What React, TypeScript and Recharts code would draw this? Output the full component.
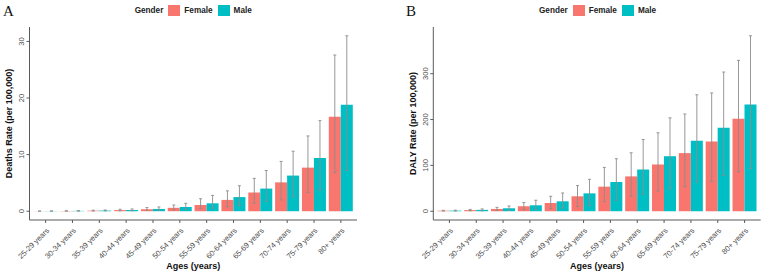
import { BarChart, Bar, XAxis, YAxis, ErrorBar, Legend, Label } from 'recharts';

// ggplot default hues
const FEMALE = '#F8766D';
const MALE = '#00BFC4';
const FONT = '"Liberation Sans", Arial, Helvetica, sans-serif';
const AXIS = '#5a5a5a';

const AGES = [
  '25-29 years', '30-34 years', '35-39 years', '40-44 years', '45-49 years', '50-54 years',
  '55-59 years', '60-64 years', '65-69 years', '70-74 years', '75-79 years', '80+ years',
];

// Deaths rate per 100,000 (mean, lower, upper)
const deathsFemale = [0.02, 0.05, 0.1, 0.2, 0.35, 0.6, 1.1, 2.0, 3.3, 5.1, 7.7, 16.7];
const deathsFemaleLow = [0.01, 0.02, 0.04, 0.08, 0.15, 0.25, 0.45, 0.8, 1.4, 2.0, 3.3, 6.8];
const deathsFemaleHigh = [0.04, 0.09, 0.18, 0.35, 0.65, 1.1, 2.2, 3.6, 5.8, 8.8, 13.3, 27.6];
const deathsMale = [0.03, 0.06, 0.12, 0.22, 0.4, 0.75, 1.4, 2.5, 4.0, 6.3, 9.4, 18.8];
const deathsMaleLow = [0.01, 0.02, 0.05, 0.09, 0.17, 0.3, 0.55, 1.0, 1.7, 2.5, 3.8, 7.2];
const deathsMaleHigh = [0.05, 0.11, 0.22, 0.4, 0.75, 1.4, 2.8, 4.5, 7.2, 10.6, 16.0, 31.0];

// DALY rate per 100,000 (mean, lower, upper)
const dalyFemale = [1.2, 2.5, 5, 10.9, 18, 32.6, 53.6, 76, 102, 126.8, 152, 201.5];
const dalyFemaleLow = [0.4, 1, 1.5, 3.5, 6, 10, 21, 33, 44, 54, 64.5, 86];
const dalyFemaleHigh = [2, 4, 8.5, 19, 32.6, 56, 95.7, 127.5, 171, 212, 258, 329];
const dalyMale = [1.4, 3, 6.5, 13, 21.7, 39, 63.8, 91, 120, 153.6, 182, 232.6];
const dalyMaleLow = [0.5, 1, 2, 4, 7, 12, 24, 37, 49, 64, 78, 93.5];
const dalyMaleHigh = [2.3, 5, 11.5, 24, 39.8, 69.6, 114.5, 156.5, 203.6, 254, 303.6, 382.6];

const deathsTicks = [0, 10, 20, 30];
const dalyTicks = [0, 100, 200, 300];

function buildRows(f: number[], fl: number[], fh: number[], m: number[], ml: number[], mh: number[]) {
  return AGES.map((age, i) => ({
    age,
    Female: f[i],
    Male: m[i],
    femaleErr: [f[i] - fl[i], fh[i] - f[i]],
    maleErr: [m[i] - ml[i], mh[i] - m[i]],
  }));
}

const deathsRows = buildRows(deathsFemale, deathsFemaleLow, deathsFemaleHigh, deathsMale, deathsMaleLow, deathsMaleHigh);
const dalyRows = buildRows(dalyFemale, dalyFemaleLow, dalyFemaleHigh, dalyMale, dalyMaleLow, dalyMaleHigh);

const XTick = (props: any) => {
  const { x, y, payload } = props;
  const ax = x + 4;
  const ay = y + 6;
  return (
    <text x={ax} y={ay} transform={`rotate(-45, ${ax}, ${ay})`} textAnchor="end"
      fontSize={7.6} fill="#4D4D4D" fontFamily={FONT}>
      {payload.value}
    </text>
  );
};

const YTick = (props: any) => {
  const { x, y, payload } = props;
  return (
    <text x={x} y={y} transform={`rotate(-90, ${x}, ${y})`} textAnchor="middle"
      fontSize={7.6} fill="#4D4D4D" fontFamily={FONT}>
      {payload.value}
    </text>
  );
};

const renderLegend = (props: any) => (
  <div style={{ display: 'flex', alignItems: 'center', fontFamily: FONT, fontSize: 8.2, fontWeight: 'bold', color: '#222', whiteSpace: 'nowrap' }}>
    <span style={{ marginRight: 5 }}>Gender</span>
    {(props.payload || []).map((e: any) => (
      <span key={e.value} style={{ display: 'flex', alignItems: 'center', marginRight: 5 }}>
        <span style={{ display: 'inline-block', width: 12, height: 11, background: e.color, marginRight: 4 }} />
        {e.value}
      </span>
    ))}
  </div>
);

interface PanelProps {
  letter: string;
  rows: any[];
  yLabel: string;
  domain: [number, number];
  ticks: number[];
  width: number;
  marginLeft: number;
  marginRight: number;
  legendLeft: number;
  letterLeft: number;
}

function Panel({ letter, rows, yLabel, domain, ticks, width, marginLeft, marginRight, legendLeft, letterLeft }: PanelProps) {
  return (
    <div style={{ position: 'relative', width, height: 277 }}>
      <div style={{ position: 'absolute', left: letterLeft, top: 4, fontFamily: '"Liberation Serif", "Times New Roman", serif', fontSize: 15, lineHeight: '15px', color: '#111' }}>
        {letter}
      </div>
      <BarChart width={width} height={277} data={rows} barCategoryGap="5%" barGap={0}
        margin={{ top: 27, right: marginRight, bottom: 0, left: marginLeft }}>
        <XAxis dataKey="age" height={57} interval={0} tick={<XTick />} tickSize={3} tickMargin={2}
          axisLine={{ stroke: AXIS }} tickLine={{ stroke: AXIS }} padding={{ left: 2.7, right: 2.7 }}>
          <Label content={(p: any) => {
            const vb = p.viewBox;
            return (
              <text x={vb.x + vb.width / 2} y={vb.y + 49} textAnchor="middle" fontFamily={FONT}
                fontSize={9} fontWeight="bold" fill="#111">Ages (years)</text>
            );
          }} />
        </XAxis>
        <YAxis type="number" domain={domain} ticks={ticks} allowDataOverflow width={21} tickSize={3}
          tickMargin={2.6} tick={<YTick />} axisLine={{ stroke: AXIS }} tickLine={{ stroke: AXIS }}>
          <Label content={(p: any) => {
            const vb = p.viewBox;
            const lx = vb.x + 3.4;
            const ly = vb.y + vb.height / 2;
            return (
              <text x={lx} y={ly} transform={`rotate(-90, ${lx}, ${ly})`} textAnchor="middle" fontFamily={FONT}
                fontSize={9} fontWeight="bold" fill="#111">{yLabel}</text>
            );
          }} />
        </YAxis>
        <Legend verticalAlign="middle" align="center" content={renderLegend}
          wrapperStyle={{ top: 5, left: legendLeft, width: 140, height: 12 }} />
        <Bar dataKey="Female" fill={FEMALE} isAnimationActive={false}>
          <ErrorBar dataKey="femaleErr" width={1.5} stroke="#8c8c8c" strokeWidth={0.9} isAnimationActive={false} />
        </Bar>
        <Bar dataKey="Male" fill={MALE} isAnimationActive={false}>
          <ErrorBar dataKey="maleErr" width={1.5} stroke="#8c8c8c" strokeWidth={0.9} isAnimationActive={false} />
        </Bar>
      </BarChart>
    </div>
  );
}

export default function App() {
  return (
    <div style={{ position: 'absolute', left: 0, top: 0, width: 767, height: 277, background: '#fff', display: 'flex' }}>
      <Panel letter="A" rows={deathsRows} yLabel="Deaths Rate (per 100,000)" domain={[-1.55, 32.55]}
        ticks={deathsTicks} width={384} marginLeft={8.5} marginRight={27} legendLeft={134.7} letterLeft={3} />
      <Panel letter="B" rows={dalyRows} yLabel="DALY Rate (per 100,000)" domain={[-19.1, 401.8]}
        ticks={dalyTicks} width={383} marginLeft={28.3} marginRight={6.3} legendLeft={155} letterLeft={22} />
    </div>
  );
}
